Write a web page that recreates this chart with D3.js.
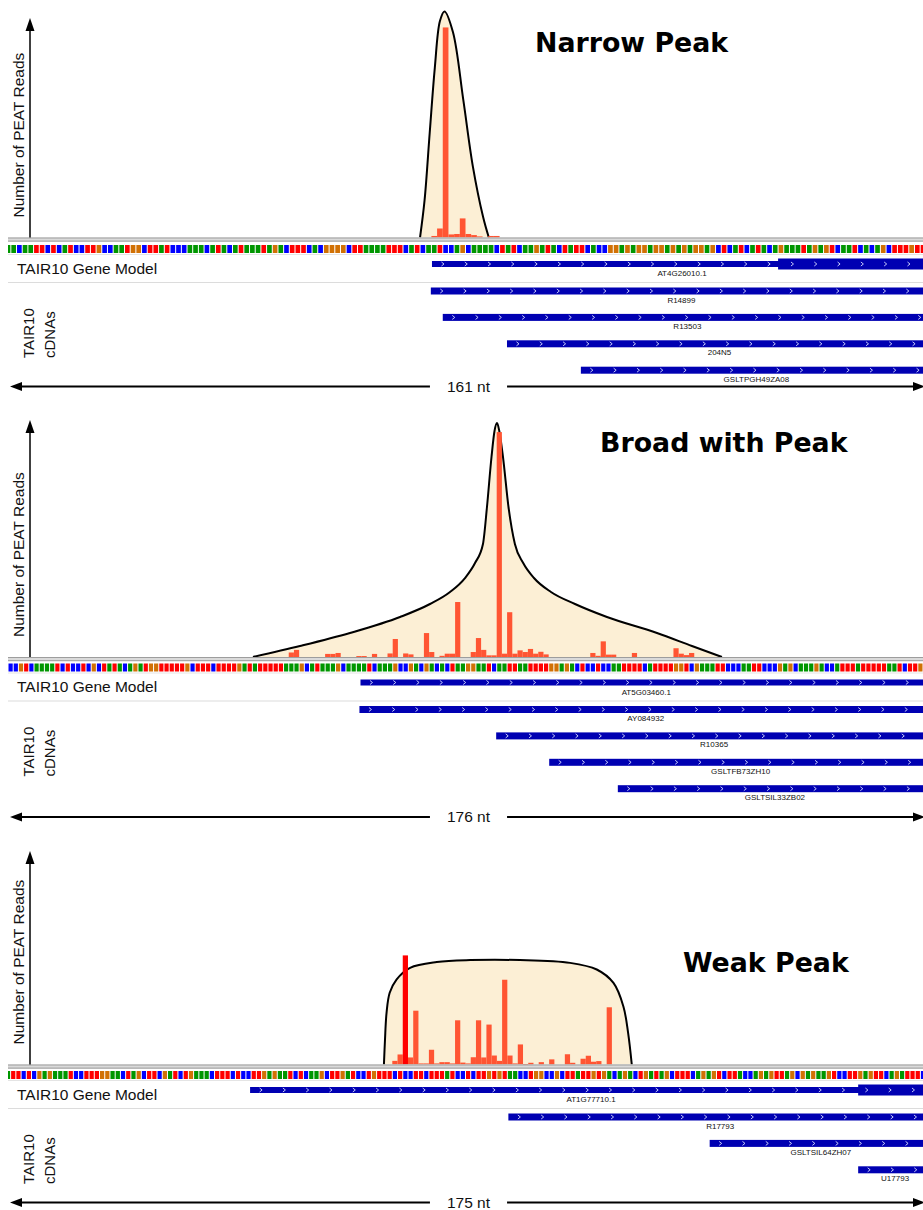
<!DOCTYPE html>
<html lang="en">
<head>
<meta charset="UTF-8" />
<title>PEAT peak classes</title>
<script src="https://cdn.jsdelivr.net/npm/d3@7"></script>
<style>
  body { margin: 0; background: #fff; }
  svg { display: block; font-family: "Liberation Sans", Arial, sans-serif; }
</style>
</head>
<body>
<div id="chart"></div>
<script>
// ---------- data ----------
// Narrow peak, 161 nt window
var narrowTitle = "Narrow Peak";
var narrowLength = 161;
var narrowSeq = "AACAATTCTCATCCTTGCCAATGGCTTATCCCAAACATACATAAATAGACTTTCACGGGGCTTAAAATTTCATCAATCCAG" +
  "CAAAACTATCAAGATACTATTCACCGGAGAGGAGGAGAGAGGAGCTCATCATACAGAAATAGAGTCAATCACAGCTTTGTTATT";
var narrowPos = [74, 75, 76, 77, 78, 79, 80, 81, 82, 84, 85];
var narrowReads = [0.7, 4.1, 95.7, 1.4, 1.6, 8.7, 1.6, 1.1, 0.5, 0.7, 0.7];
var narrowEnvPos = [72.0, 72.8, 73.7, 74.6, 75.5, 76.3, 77.8, 79.6, 81.3, 83.1, 84.1];
var narrowEnvReads = [0, 17, 47.6, 77.3, 98.6, 103, 93.5, 62.9, 32.3, 9.3, 0];
var narrowGene = { name: "AT4G26010.1", start: 74.1, codingStart: 135.0 };
var narrowCdnaNames = ["R14899", "R13503", "204N5", "GSLTPGH49ZA08"];
var narrowCdnaStarts = [73.9, 76.0, 87.3, 100.3];

// Broad with peak, 176 nt window
var broadTitle = "Broad with Peak";
var broadLength = 176;
var broadSeq = "CCGTCAAAATCTCCTCGCTATACAGATGGTTTTTGCTTTCTTTTGATATTTTTAAAGCATAAAGCAAAATCAAAGCCGACGACACTAA" +
  "GGAATCAATTAATTTTGGAGACTCCTCCAATTTTCATTTTGGTCGAAATTCCCAATTCCCGAGCAAAGACCATTTATTTTTAATCTTG";
var broadPos = [54, 55, 61, 62, 63, 67, 68, 70, 73, 74, 76, 77, 80, 81, 83, 84, 85, 86, 89, 90, 91, 92,
  93, 94, 95, 96, 97, 98, 99, 100, 101, 102, 103, 112, 113, 114, 115, 116, 120, 128, 129, 130, 131];
var broadReads = [1.9, 3.0, 1.3, 1.3, 1.7, 0.4, 0.4, 1.3, 1.5, 7.6, 1.5, 1.1, 10.1, 2.1, 0.5, 1.4, 1.4, 23.2, 2.1, 8.0, 3.0, 0.7,
  0.7, 94.9, 1.4, 18.9, 1.4, 2.8, 2.1, 3.4, 1.4, 2.2, 1.1, 1.7, 0.5, 6.6, 1.0, 1.0, 1.7, 3.7, 1.4, 0.8, 1.7];
var broadEnvPos = [47.12, 56.16, 65.78, 75.40, 81.17, 85.02, 87.90, 89.83, 91.36, 92.13, 93.0, 93.58, 94.06,
  94.5, 95.21, 96.27, 97.5, 99.1, 101.17, 104.44, 109.06, 115.21, 124.83, 131.56, 137.33];
var broadEnvReads = [0, 4.64, 10.13, 16.88, 22.36, 27.43, 33.33, 39.66, 47.68, 63.29, 84.39, 95.36, 98.73,
  95.36, 84.39, 63.29, 47.68, 39.66, 33.33, 27.43, 22.36, 16.88, 10.13, 4.64, 0];
var broadGene = { name: "AT5G03460.1", start: 67.8 };
var broadCdnaNames = ["AY084932", "R10365", "GSLTFB73ZH10", "GSLTSIL33ZB02"];
var broadCdnaStarts = [67.6, 93.9, 104.1, 117.3];

// Weak peak, 175 nt window
var weakTitle = "Weak Peak";
var weakLength = 175;
var weakSeq = "ATTCTCGAGAAATCCTTTGGAACTAGCTTCGATCTGAAACTTTCTCCTTGAGAATCTCAAGCTTGATCC" +
  "TGTTTCTCCTTCTTTATCCTCTTGTGTAACCTGGCCGCTTATTGTGACAGACTGAT" +
  "AGCTTTCAGAGTCTTACCAGAGTTAGCGAGAAGTCCTTGAGTTCAGATTTCGAG";
var weakPos = [73, 74, 75, 76, 77, 78, 79, 80, 81, 82, 83, 84, 85, 86, 87, 88, 89, 90, 91, 92, 93, 94,
  95, 96, 97, 98, 99, 101, 103, 106, 107, 109, 110, 111, 112, 114];
var weakReads = [1.7, 4.7, 51.1, 3.3, 25.2, 0.5, 0.5, 6.9, 0.5, 1.1, 1.1, 0.5, 20.7, 0.9, 0.5, 3.4, 20.7, 3.3, 18.7, 4.2, 1.7, 39.7,
  4.2, 0.5, 9.4, 0.2, 0.8, 1.1, 2.4, 4.8, 0.8, 2.7, 4.1, 1.3, 1.6, 26.8];
var weakOverRange = [75];
var weakEnvPos = [71.4, 71.6, 71.9, 72.5, 73.8, 76.4, 81.5, 87.9, 97.4, 107.0, 112.1, 115.3, 117.2, 118.1, 118.8];
var weakEnvReads = [0, 11.5, 24.2, 33.6, 39.8, 45.3, 48.0, 48.9, 48.9, 47.6, 44.5, 38.2, 27.2, 14.8, 0];
var weakGene = { name: "AT1G77710.1", start: 45.8, codingStart: 162.1 };
var weakCdnaNames = ["R17793", "GSLTSIL64ZH07", "U17793"];
var weakCdnaStarts = [95.2, 133.7, 162.1];

// ---------- layout ----------
var W = 923, H = 1210;
var left = 8, right = 923;
var baseColors = { A: "#009600", C: "#0000ff", G: "#d17105", T: "#ff0000" };
var barColor = "#ff5533";
var featureColor = "#0000b2";

var panels = [
  { id: 0, title: narrowTitle, n: narrowLength, start: -0.5, seq: narrowSeq, pos: narrowPos, reads: narrowReads,
    over: [], envPos: narrowEnvPos, envReads: narrowEnvReads, curve: d3.curveCatmullRom.alpha(0.5),
    gene: narrowGene, cdnaNames: narrowCdnaNames, cdnaStarts: narrowCdnaStarts,
    y0: 237.5, axisTop: 18, trackTop: 245, titleX: 535, titleY: 52, arrowY: 386.5 },
  { id: 1, title: broadTitle, n: broadLength, start: 0, seq: broadSeq, pos: broadPos, reads: broadReads,
    over: [], envPos: broadEnvPos, envReads: broadEnvReads, curve: d3.curveMonotoneX,
    gene: broadGene, cdnaNames: broadCdnaNames, cdnaStarts: broadCdnaStarts,
    y0: 657, axisTop: 420, trackTop: 663.5, titleX: 600, titleY: 452, arrowY: 817 },
  { id: 2, title: weakTitle, n: weakLength, start: -0.5, seq: weakSeq, pos: weakPos, reads: weakReads,
    over: weakOverRange, envPos: weakEnvPos, envReads: weakEnvReads, curve: d3.curveCatmullRom.alpha(0.5),
    gene: weakGene, cdnaNames: weakCdnaNames, cdnaStarts: weakCdnaStarts,
    y0: 1064.5, axisTop: 851, trackTop: 1071, titleX: 683, titleY: 972, arrowY: 1202.5 }
];

var svg = d3.select("#chart").append("svg").attr("width", W).attr("height", H);

svg.append("clipPath").attr("id", "trackclip")
  .append("rect").attr("x", left).attr("y", 0).attr("width", right - left).attr("height", H);

// little white arrows along a feature bar
function chevrons(g, x0, cy) {
  var xs = d3.range(x0 + 11, right - 2, 23.3);
  g.selectAll(null).data(xs).join("path")
    .attr("d", function (cx) {
      return "M" + (cx - 1.5) + "," + (cy - 2) + "L" + (cx + 1) + "," + cy + "L" + (cx - 1.5) + "," + (cy + 2);
    })
    .attr("fill", "none").attr("stroke", "#d8dcff").attr("stroke-width", 0.9);
}

function drawPanel(p) {
  var g = svg.append("g");
  var x = d3.scaleLinear().domain([p.start, p.start + p.n]).range([left, right]);
  var y = d3.scaleLinear().domain([0, 100]).range([p.y0, p.axisTop]);
  var w = x(1) - x(0);
  var t = p.trackTop;
  var tracks = g.append("g").attr("clip-path", "url(#trackclip)");

  // peak envelope
  var env = p.envPos.map(function (d, i) { return [d, p.envReads[i]]; });
  tracks.append("path")
    .attr("d", d3.area().curve(p.curve).x(function (d) { return x(d[0]); }).y0(y(0)).y1(function (d) { return y(d[1]); })(env))
    .attr("fill", "#fcefd5");
  tracks.append("path")
    .attr("d", d3.line().curve(p.curve).x(function (d) { return x(d[0]); }).y(function (d) { return y(d[1]); })(env))
    .attr("fill", "none").attr("stroke", "#000").attr("stroke-width", 2);

  // read counts
  var bars = p.pos.map(function (d, i) { return { pos: d, reads: p.reads[i] }; });
  tracks.selectAll(null).data(bars).join("rect")
    .attr("x", function (d) { return x(d.pos); })
    .attr("width", w)
    .attr("y", function (d) { return y(d.reads); })
    .attr("height", function (d) { return Math.max(1, y(0) - y(d.reads)); })
    .attr("fill", function (d) { return p.over.indexOf(d.pos) >= 0 ? "#ff0000" : barColor; });

  // baseline band
  g.append("rect").attr("x", left).attr("y", p.y0).attr("width", right - left).attr("height", 4).attr("fill", "#dadada");
  g.append("line").attr("x1", left).attr("x2", right).attr("y1", p.y0 + 0.5).attr("y2", p.y0 + 0.5)
    .attr("stroke", "#9d9d9d").attr("stroke-width", 1.2);
  g.append("line").attr("x1", left).attr("x2", right).attr("y1", p.y0 + 3.6).attr("y2", p.y0 + 3.6)
    .attr("stroke", "#a8a8a8").attr("stroke-width", 1.2);

  // sequence strip
  var lo = Math.floor(p.start);
  var cells = p.seq.split("").map(function (b, k) { return { i: lo + k, b: b }; });
  tracks.selectAll(null).data(cells).join("rect")
    .attr("x", function (d) { return x(d.i) + 0.5; })
    .attr("width", w - 1)
    .attr("y", t).attr("height", 8)
    .attr("fill", function (d) { return baseColors[d.b]; });
  g.append("line").attr("x1", left).attr("x2", right).attr("y1", t + 9.5).attr("y2", t + 9.5)
    .attr("stroke", "#e4e4e4").attr("stroke-width", 1);

  // y axis arrow + label
  g.append("line").attr("x1", 30).attr("x2", 30).attr("y1", p.y0).attr("y2", p.axisTop + 8)
    .attr("stroke", "#000").attr("stroke-width", 1.5);
  g.append("path")
    .attr("d", "M30," + p.axisTop + "L25.5," + (p.axisTop + 13) + "L34.5," + (p.axisTop + 13) + "Z")
    .attr("fill", "#000");
  g.append("text")
    .attr("transform", "translate(24," + (p.y0 - 20) + ") rotate(-90)")
    .attr("font-size", 15.5).attr("fill", "#111")
    .text("Number of PEAT Reads");

  // title
  g.append("text").attr("x", p.titleX).attr("y", p.titleY)
    .attr("font-family", "'DejaVu Sans', sans-serif").attr("font-weight", "bold")
    .attr("font-size", 26.8).attr("fill", "#000")
    .text(p.title);

  // gene model track
  g.append("text").attr("x", 17).attr("y", t + 28.5)
    .attr("font-size", 15.5).attr("fill", "#111").text("TAIR10 Gene Model");
  var gx = x(p.gene.start);
  tracks.append("rect").attr("x", gx).attr("y", t + 16).attr("width", right - gx).attr("height", 6)
    .attr("fill", featureColor);
  if (p.gene.codingStart !== undefined) {
    var cx = x(p.gene.codingStart);
    tracks.append("rect").attr("x", cx).attr("y", t + 13.5).attr("width", right - cx).attr("height", 11)
      .attr("fill", featureColor);
  }
  chevrons(tracks, gx, t + 19);
  g.append("text").attr("x", (gx + right + 9) / 2).attr("y", t + 31)
    .attr("text-anchor", "middle").attr("font-size", 8).attr("fill", "#111").text(p.gene.name);

  g.append("line").attr("x1", left).attr("x2", right).attr("y1", t + 37.5).attr("y2", t + 37.5)
    .attr("stroke", "#dcdcdc").attr("stroke-width", 1.2);

  // cDNA track
  var cdna = p.cdnaNames.map(function (d, i) { return { name: d, start: p.cdnaStarts[i], row: i }; });
  cdna.forEach(function (d) {
    var top = t + 42.5 + d.row * 26.4;
    var sx = x(d.start);
    tracks.append("rect").attr("x", sx).attr("y", top).attr("width", right - sx).attr("height", 7)
      .attr("fill", featureColor);
    chevrons(tracks, sx, top + 3.5);
    g.append("text").attr("x", (sx + right + 9) / 2).attr("y", top + 15)
      .attr("text-anchor", "middle").attr("font-size", 8).attr("fill", "#111").text(d.name);
  });
  var cl = g.append("text")
    .attr("transform", "translate(34," + (t + 113) + ") rotate(-90)")
    .attr("font-size", 15).attr("fill", "#111");
  cl.append("tspan").attr("x", 0).attr("dy", 0).text("TAIR10");
  cl.append("tspan").attr("x", 0).attr("dy", 20.5).text("cDNAs");

  // window length arrow
  var mid = (left + right) / 2 + 3;
  var lab = g.append("text").attr("x", mid).attr("y", p.arrowY + 5)
    .attr("text-anchor", "middle").attr("font-size", 15.5).attr("fill", "#111")
    .text(p.n + " nt");
  var half = lab.node().getComputedTextLength() / 2 + 17;
  g.append("line").attr("x1", 18).attr("x2", mid - half).attr("y1", p.arrowY).attr("y2", p.arrowY)
    .attr("stroke", "#000").attr("stroke-width", 2);
  g.append("path").attr("d", "M10," + p.arrowY + "L22," + (p.arrowY - 4.5) + "L22," + (p.arrowY + 4.5) + "Z")
    .attr("fill", "#000");
  g.append("line").attr("x1", mid + half).attr("x2", right - 6).attr("y1", p.arrowY).attr("y2", p.arrowY)
    .attr("stroke", "#000").attr("stroke-width", 2);
  g.append("path").attr("d", "M925," + p.arrowY + "L913," + (p.arrowY - 4.5) + "L913," + (p.arrowY + 4.5) + "Z")
    .attr("fill", "#000");
}

panels.forEach(drawPanel);
</script>
</body>
</html>
